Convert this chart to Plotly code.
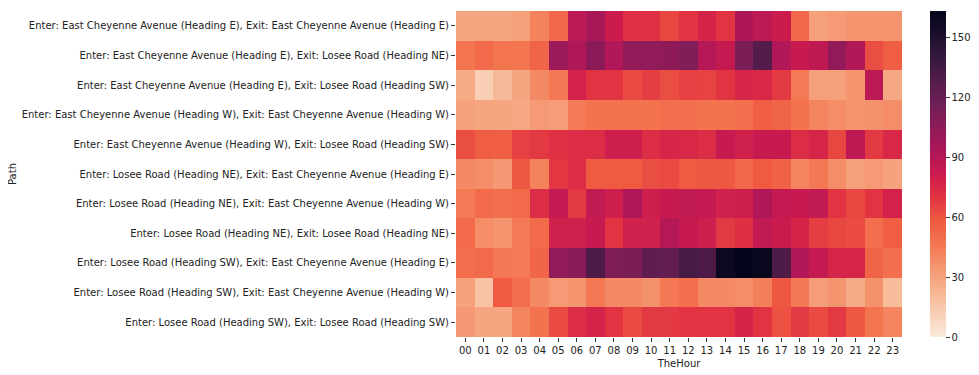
import plotly.graph_objects as go

hours = [f"{h:02d}" for h in range(24)]

paths = [
    "Enter: East Cheyenne Avenue (Heading E), Exit: East Cheyenne Avenue (Heading E)",
    "Enter: East Cheyenne Avenue (Heading E), Exit: Losee Road (Heading NE)",
    "Enter: East Cheyenne Avenue (Heading E), Exit: Losee Road (Heading SW)",
    "Enter: East Cheyenne Avenue (Heading W), Exit: East Cheyenne Avenue (Heading W)",
    "Enter: East Cheyenne Avenue (Heading W), Exit: Losee Road (Heading SW)",
    "Enter: Losee Road (Heading NE), Exit: East Cheyenne Avenue (Heading E)",
    "Enter: Losee Road (Heading NE), Exit: East Cheyenne Avenue (Heading W)",
    "Enter: Losee Road (Heading NE), Exit: Losee Road (Heading NE)",
    "Enter: Losee Road (Heading SW), Exit: East Cheyenne Avenue (Heading E)",
    "Enter: Losee Road (Heading SW), Exit: East Cheyenne Avenue (Heading W)",
    "Enter: Losee Road (Heading SW), Exit: Losee Road (Heading SW)",
]

ece_to_ece = [29, 29, 29, 31, 42, 52, 87, 95, 81, 71, 71, 64, 70, 77, 70, 93, 87, 81, 52, 31, 33, 35, 35, 35]
ece_to_lne = [47, 51, 47, 47, 54, 100, 92, 106, 91, 104, 104, 105, 110, 90, 84, 112, 128, 91, 83, 86, 103, 91, 62, 57]
ece_to_lsw = [27, 12, 21, 29, 39, 46, 78, 70, 70, 63, 67, 62, 66, 65, 70, 76, 75, 68, 45, 31, 31, 35, 88, 28]
ecw_to_ecw = [30, 29, 29, 28, 33, 32, 45, 48, 48, 48, 48, 50, 49, 48, 48, 49, 56, 54, 48, 41, 38, 35, 36, 38]
ecw_to_lsw = [62, 57, 56, 66, 68, 71, 73, 73, 80, 80, 73, 76, 75, 73, 83, 79, 83, 83, 73, 76, 64, 86, 68, 75]
lne_to_ece = [39, 38, 34, 59, 42, 69, 73, 58, 58, 58, 62, 63, 58, 59, 59, 52, 58, 55, 41, 46, 38, 31, 33, 30]
lne_to_ecw = [45, 51, 50, 51, 73, 84, 68, 85, 80, 92, 80, 83, 85, 84, 79, 80, 92, 84, 83, 85, 70, 64, 70, 78]
lne_to_lne = [51, 38, 35, 45, 51, 79, 79, 83, 70, 79, 79, 90, 83, 80, 68, 72, 85, 82, 77, 67, 64, 63, 50, 56]
lsw_to_ece = [50, 51, 46, 45, 54, 104, 107, 130, 111, 112, 123, 122, 133, 130, 158, 163, 160, 130, 91, 84, 76, 76, 54, 49]
lsw_to_ecw = [30, 17, 58, 50, 39, 33, 35, 46, 39, 39, 36, 46, 50, 39, 39, 38, 43, 59, 46, 32, 35, 27, 36, 20]
lsw_to_lsw = [34, 29, 29, 41, 48, 63, 73, 77, 70, 63, 68, 68, 70, 70, 70, 77, 70, 61, 68, 63, 68, 59, 47, 41]

z = [ece_to_ece, ece_to_lne, ece_to_lsw, ecw_to_ecw, ecw_to_lsw,
     lne_to_ece, lne_to_ecw, lne_to_lne, lsw_to_ece, lsw_to_ecw, lsw_to_lsw]

colorbar_ticks = [0, 30, 60, 90, 120, 150]

rocket_r = [
    [0.0, "#faebdd"],
    [0.143, "#f6b48f"],
    [0.286, "#f37651"],
    [0.357, "#ef5a41"],
    [0.429, "#e13342"],
    [0.5, "#cb1b4f"],
    [0.571, "#ad1759"],
    [0.714, "#701f57"],
    [0.857, "#35193e"],
    [1.0, "#03051a"],
]

zmax = max(max(r) for r in z)

FONT = "DejaVu Sans"
OFF = 8  # default page body margin
W, H = 979 - OFF, 375 - OFF
PLOT_L, PLOT_R = 456 - OFF, 902 - OFF
PLOT_T, PLOT_B = 11 - OFF, 337 - OFF
CB_X = 930 - OFF

fig = go.Figure(go.Heatmap(
    z=z, x=hours, y=paths,
    colorscale=rocket_r, zmin=0, zmax=zmax,
    xgap=0, ygap=0,
    colorbar=dict(
        x=(CB_X - PLOT_L) / (PLOT_R - PLOT_L), xanchor="left", xpad=0, ypad=0,
        y=0.5, yanchor="middle", len=1, lenmode="fraction",
        thickness=16, outlinewidth=0,
        tickvals=colorbar_ticks, ticks="outside", ticklen=4,
        tickcolor="#333", tickfont=dict(family=FONT, size=10, color="#222"),
    ),
))

fig.update_layout(
    width=W, height=H,
    margin=dict(l=PLOT_L, r=W - PLOT_R, t=PLOT_T, b=H - PLOT_B, autoexpand=False),
    paper_bgcolor="white", plot_bgcolor="white",
    font=dict(family=FONT, size=10, color="#222"),
    xaxis=dict(
        type="category", showgrid=False, zeroline=False, automargin=False,
        ticks="outside", ticklen=4, tickcolor="#333",
        tickfont=dict(family=FONT, size=10, color="#222"),
        title=dict(text="TheHour", font=dict(family=FONT, size=10, color="#222"), standoff=4),
    ),
    yaxis=dict(
        type="category", autorange="reversed", showgrid=False, zeroline=False, automargin=False,
        ticks="outside", ticklen=4, tickcolor="#333",
        tickfont=dict(family=FONT, size=10, color="#222"),
    ),
    annotations=[dict(
        text="Path", x=(12 - 456) / (902 - 456), xanchor="center",
        xref="paper", y=0.5, yref="paper",
        showarrow=False, textangle=-90,
        font=dict(family=FONT, size=10, color="#222"),
    )],
)

fig.write_html("out.html")
